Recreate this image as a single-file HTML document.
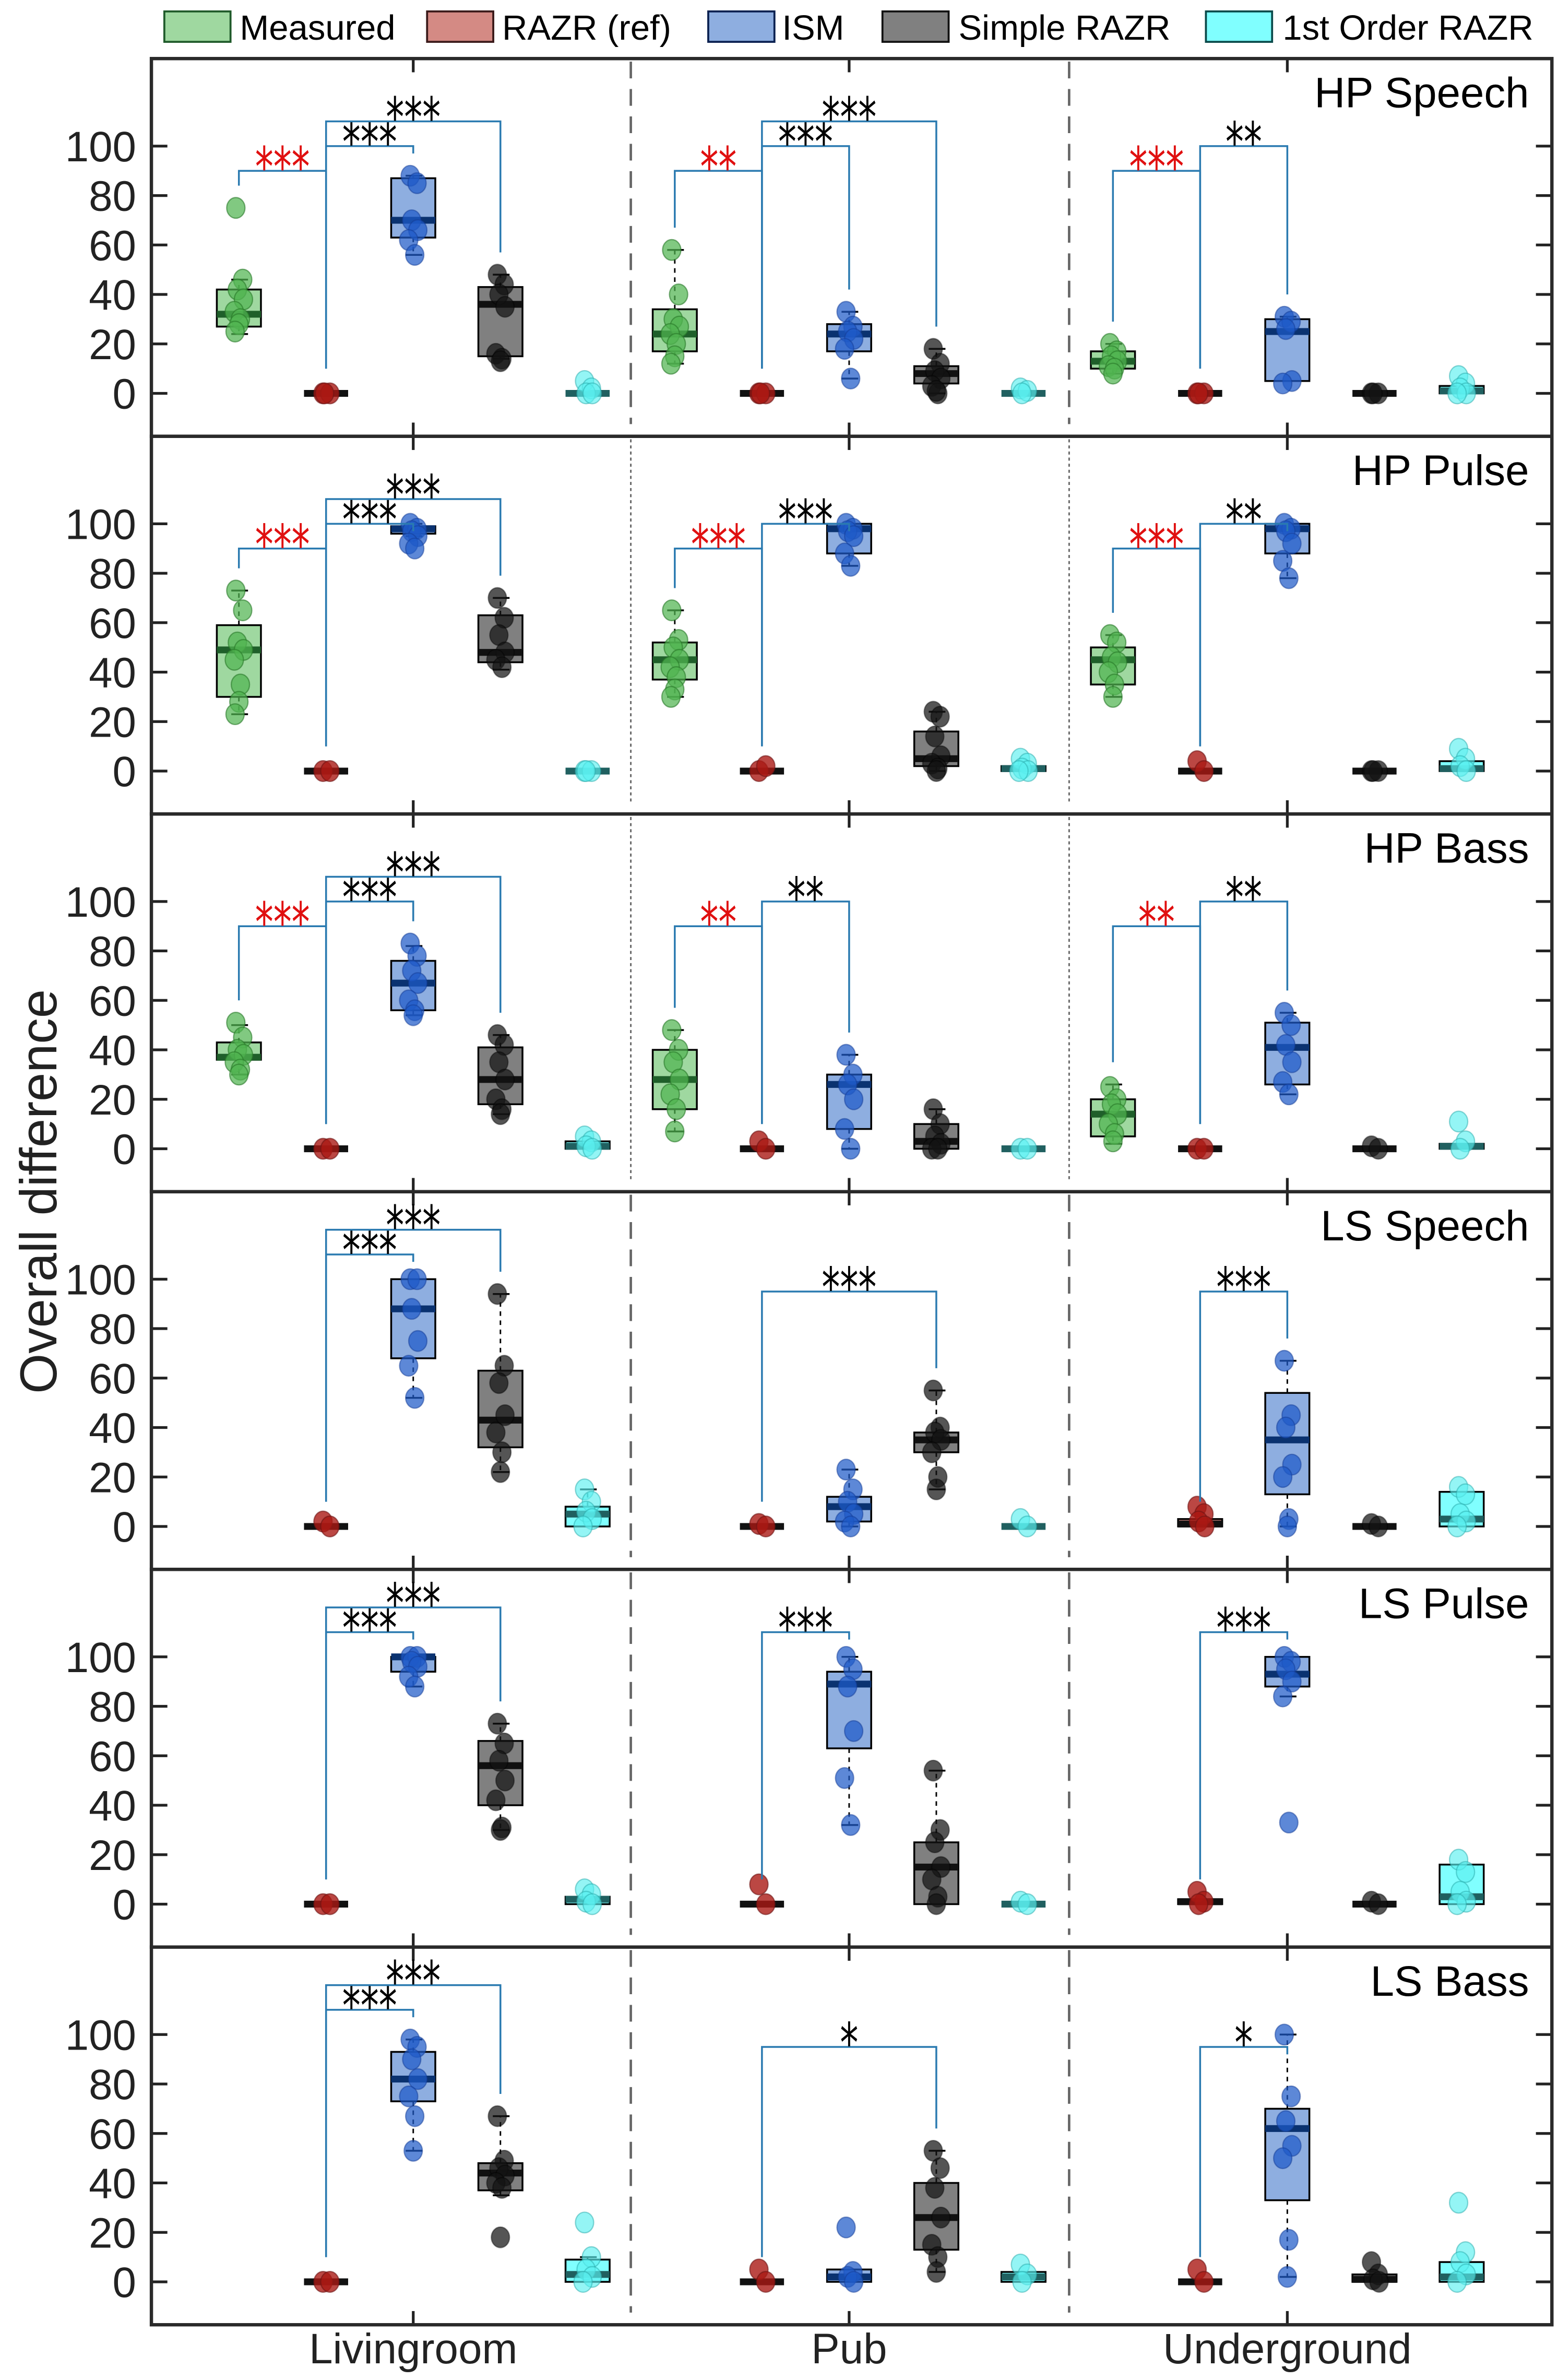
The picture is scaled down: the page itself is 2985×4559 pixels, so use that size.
<!DOCTYPE html>
<html><head><meta charset="utf-8"><style>
html,body{margin:0;padding:0;background:#fff;}
svg{display:block;font-family:"Liberation Sans",Arial,sans-serif;}
</style></head><body>
<svg id="chart" xmlns="http://www.w3.org/2000/svg" width="2985" height="4559" viewBox="0 0 1024 1564"></svg>
<script>
// ---- data ----
const rooms = ["Livingroom","Pub","Underground"];
const conditions = ["Measured","RAZR (ref)","ISM","Simple RAZR","1st Order RAZR"];
const panelTitles = ["HP Speech","HP Pulse","HP Bass","LS Speech","LS Pulse","LS Bass"];
const yTicks = [0,20,40,60,80,100];
// box stats per panel -> room -> condition : [q1, median, q3, whiskerLow, whiskerHigh]
const boxStats = [
 [[[27,32,42,24,46],[0,0,0,0,0],[63,70,87,56,88],[15,36,43,14,48],[0,0,0,0,0]],
  [[17,24,34,12,58],[0,0,0,0,0],[17,24,28,6,33],[4,8,11,0,18],[0,0,0,0,0]],
  [[10,13,17,8,20],[0,0,0,0,0],[5,25,30,5,31],[0,0,0,0,0],[0,1,3,0,3]]],
 [[[30,49,59,23,73],[0,0,0,0,0],[96,98,99,95,100],[44,48,63,41,70],[0,0,0,0,0]],
  [[37,45,52,30,65],[0,0,0,0,0],[88,98,100,83,100],[2,5,16,0,24],[0,1,2,0,2]],
  [[35,45,50,30,55],[0,0,0,0,0],[88,98,100,78,100],[0,0,0,0,0],[0,1,4,0,4]]],
 [[[36,37,43,30,50],[0,0,0,0,0],[56,67,76,54,82],[18,28,41,14,46],[0,1,3,0,3]],
  [[16,28,40,7,48],[0,0,0,0,0],[8,26,30,0,38],[0,3,10,0,16],[0,0,0,0,0]],
  [[5,14,20,2,26],[0,0,0,0,0],[26,41,51,22,55],[0,0,0,0,0],[0,1,2,0,2]]],
 [[null,[0,0,0,0,0],[68,88,100,52,100],[32,43,63,22,94],[0,5,8,0,15]],
  [null,[0,0,0,0,0],[2,8,12,0,23],[30,35,38,15,55],[0,0,0,0,0]],
  [null,[0,1,3,0,3],[13,35,54,0,67],[0,0,0,0,0],[0,3,14,0,14]]],
 [[null,[0,0,0,0,0],[94,100,100,88,100],[40,56,66,30,73],[0,2,3,0,3]],
  [null,[0,0,0,0,0],[63,89,94,32,100],[0,15,25,0,54],[0,0,0,0,0]],
  [null,[0,1,2,0,2],[88,93,100,84,100],[0,0,0,0,0],[0,3,16,0,16]]],
 [[null,[0,0,0,0,0],[73,82,93,53,98],[37,44,48,35,67],[0,3,9,0,10]],
  [null,[0,0,0,0,0],[0,2,5,0,5],[13,26,40,4,53],[0,2,4,0,4]],
  [null,[0,0,0,0,0],[33,62,70,2,100],[0,1,3,0,3],[0,2,8,0,8]]]
];
// raw points per panel -> room -> condition
const points = [
 [[[75,46,42,38,33,30,28,25],[0,0,0],[88,85,70,66,62,56],[48,44,40,35,16,14,13],[5,2,0,0]],
  [[58,40,30,27,24,20,15,12],[0,0,0],[33,27,25,22,18,6],[18,12,9,6,3,0,1],[2,1,0]],
  [[20,17,15,13,11,10,8],[0,0,0],[31,29,26,5,4],[0,0,0],[7,4,2,0,0]]],
 [[[73,65,52,49,45,35,28,23],[0,0],[100,98,97,95,92,90],[70,62,55,48,45,42],[0,0,0]],
  [[65,53,50,45,42,38,33,30],[0,2],[100,98,97,95,88,83],[24,22,14,6,3,1,0],[5,3,1,0,0]],
  [[55,52,46,44,40,35,30],[4,0],[100,98,97,92,85,78],[0,0,0],[9,5,2,0]]],
 [[[51,45,40,38,35,32,30],[0,0],[83,78,72,67,60,56,54],[46,42,35,28,20,16,14],[5,3,1,0]],
  [[48,40,35,28,22,16,7],[3,0],[38,30,26,20,8,0],[16,10,5,2,0,0],[0,0]],
  [[25,20,18,14,10,6,3],[0,0],[55,50,42,35,27,22],[1,0],[11,3,0]]],
 [[[],[2,0],[100,100,88,75,65,52],[94,65,58,45,38,30,22],[15,10,6,3,0]],
  [[],[1,0],[23,15,10,5,2,0],[55,40,38,35,30,20,15],[3,0]],
  [[],[8,5,2,0],[67,45,40,25,20,3,0],[1,0],[16,13,5,2,0]]],
 [[[],[0,0],[100,100,98,96,92,88],[73,65,58,50,42,31,30],[6,4,1,0]],
  [[],[8,0],[100,95,88,70,51,32],[54,30,25,15,10,3,0],[1,0]],
  [[],[5,1,0],[100,98,95,90,84,33],[1,0],[18,13,5,1,0]]],
 [[[],[0,0],[98,95,90,82,75,67,53],[67,49,46,43,40,38,18],[24,10,5,2,0]],
  [[],[5,0],[22,4,2,0],[53,46,38,26,15,10,4],[7,3,0]],
  [[],[5,0],[100,75,65,55,50,17,2],[8,3,1,0],[32,12,8,3,0]]]
];
// significance brackets
const bracketPanel = [0,0,0,0,0,0,0,0, 1,1,1,1,1,1,1, 2,2,2,2,2,2,2, 3,3,3,3, 4,4,4,4, 5,5,5,5];
const bracketRoom  = [0,0,0,1,1,1,2,2, 0,0,0,1,1,2,2, 0,0,0,1,1,2,2, 0,0,1,2, 0,0,1,2, 0,0,1,2];
const bracketFrom  = [0,1,1,0,1,1,0,1, 0,1,1,0,1,0,1, 0,1,1,0,1,0,1, 1,1,1,1, 1,1,1,1, 1,1,1,1];
const bracketTo    = [1,2,3,1,2,3,1,2, 1,2,3,1,2,1,2, 1,2,3,1,2,1,2, 2,3,3,2, 2,3,2,2, 2,3,3,2];
const bracketLevel = [90,100,110,90,100,110,90,100, 90,100,110,90,100,90,100, 90,100,110,90,100,90,100, 110,120,95,95, 110,120,110,110, 110,120,95,95];
const bracketStars = ["***","***","***","**","***","***","***","**",
 "***","***","***","***","***","***","**",
 "***","***","***","**","**","**","**",
 "***","***","***","***", "***","***","***","***", "***","***","*","*"];
const bracketRed   = [1,0,0,1,0,0,1,0, 1,0,0,1,0,1,0, 1,0,0,1,0,1,0, 0,0,0,0, 0,0,0,0, 0,0,0,0];

// ---- styling / layout ----
const NS="http://www.w3.org/2000/svg";
const svg=document.getElementById('chart');
const L=99.5,R=1020,T0=38.5,PH=248.2;
const roomX=[157,443.5,731.5], GAP=57.3, HW=14.5;
const fills=["#9fd8a0","#d48a84","#8eaee0","#808080","#80ffff"];
const legStroke=["#1f5a2a","#3a1a1a","#0a2050","#111","#0a4a4a"];
const medCol=["#1f5f2a","#111","#0a3270","#111","#206060"];
const ptFill=["rgba(80,180,80,0.72)","rgba(170,25,20,0.8)","rgba(30,90,200,0.72)","rgba(20,20,20,0.72)","rgba(90,240,240,0.65)"];
const ptStroke=["rgba(40,120,40,0.6)","rgba(110,20,20,0.6)","rgba(20,60,150,0.5)","rgba(0,0,0,0.4)","rgba(40,170,170,0.5)"];
const jit=[-2,2.5,-1,3,-3,1,0,-2.5];
function el(tag,attrs,parent){const e=document.createElementNS(NS,tag);for(const k in attrs)e.setAttribute(k,attrs[k]);(parent||svg).appendChild(e);return e;}
function yS(p,v){return T0+p*PH+220-v*1.625;}
function xS(r,c){return roomX[r]+c*GAP;}

// legend
const legX=[108,280.7,465.5,580,792.6], legTX=[157.6,330,514,630,843];
conditions.forEach((c,i)=>{
  const g=el('g',{});
  
  
  el('rect',{x:legX[i],y:7.5,width:43.5,height:20,fill:fills[i],stroke:legStroke[i],'stroke-width':1.3},g);
  const t=el('text',{x:legTX[i],y:26,'font-size':23,fill:'#000'},g);t.textContent=c;
});

for(let p=0;p<6;p++){
  const top=T0+p*PH, bot=top+PH;
  const pg=el('g',{});
  
  
  [414.6,702.7].forEach(x=>{
    const ln=el('line',{x1:x,y1:top+2,x2:x,y2:bot-8,stroke:'#666','stroke-width':(p==1||p==2)?1:1.6,'stroke-dasharray':(p==1||p==2)?'2 2':'11 7'},pg);
    
    
  });
  yTicks.forEach(v=>{
    const y=yS(p,v);
    el('line',{x1:L,y1:y,x2:L+10.5,y2:y,stroke:'#222','stroke-width':1.8},pg);
    el('line',{x1:R-10.5,y1:y,x2:R,y2:y,stroke:'#222','stroke-width':1.8},pg);
    const t=el('text',{x:L-10,y:y+10,'font-size':28,'text-anchor':'end',fill:'#222'},pg);
    t.textContent=v;
    
    
  });
  roomX.forEach((rx,r)=>{
    const x=xS(r,2);
    el('line',{x1:x,y1:top,x2:x,y2:top+9,stroke:'#222','stroke-width':1.8},pg);
    el('line',{x1:x,y1:bot-9,x2:x,y2:bot,stroke:'#222','stroke-width':1.8},pg);
  });
  for(let r=0;r<3;r++)for(let c=0;c<5;c++){
    const s=boxStats[p][r][c]; if(!s) continue;
    const x=xS(r,c);
    const g=el('g',{},pg);
    
    
    const [q1,md,q3,wl,wh]=s;
    if(wh>q3){el('line',{x1:x,y1:yS(p,q3),x2:x,y2:yS(p,wh),stroke:'#000','stroke-width':1,'stroke-dasharray':'3 3'},g);
      el('line',{x1:x-5,y1:yS(p,wh),x2:x+6,y2:yS(p,wh),stroke:'#000','stroke-width':1.2},g);}
    if(wl<q1){el('line',{x1:x,y1:yS(p,q1),x2:x,y2:yS(p,wl),stroke:'#000','stroke-width':1,'stroke-dasharray':'3 3'},g);
      el('line',{x1:x-5,y1:yS(p,wl),x2:x+6,y2:yS(p,wl),stroke:'#000','stroke-width':1.2},g);}
    if(q3>q1) el('rect',{x:x-HW,y:yS(p,q3),width:2*HW,height:yS(p,q1)-yS(p,q3),fill:fills[c],stroke:'#000','stroke-width':1.2},g);
    el('line',{x1:x-HW,y1:yS(p,md),x2:x+HW,y2:yS(p,md),stroke:medCol[c],'stroke-width':4.5},g);
    points[p][r][c].forEach((v,k)=>{
      const pt=el('ellipse',{cx:x+jit[k%8],cy:yS(p,v),rx:6,ry:6.8,fill:ptFill[c],stroke:ptStroke[c],'stroke-width':0.8},g);
      
      
    });
  }
  const tt=el('text',{x:1005,y:top+32,'font-size':28,'text-anchor':'end',fill:'#000'},pg);
  tt.textContent=panelTitles[p];
  
  
  el('rect',{x:L,y:top,width:R-L,height:PH,fill:'none',stroke:'#2a2a2a','stroke-width':2.2},pg);
}

function maxOf(p,r,c){const a=points[p][r][c];const b=boxStats[p][r][c];let m=a.length?Math.max(...a):0;if(b)m=Math.max(m,b[4]);return m;}
for(let i=0;i<bracketPanel.length;i++){
  const p=bracketPanel[i],r=bracketRoom[i],a=bracketFrom[i],b=bracketTo[i],lv=bracketLevel[i];
  const x1=xS(r,a),x2=xS(r,b);
  const e1=a==1?10:Math.min(maxOf(p,r,a)+9,lv-3);
  const e2=b==1?10:Math.min(maxOf(p,r,b)+9,lv-3);
  const g=el('g',{});
  
  
  el('polyline',{points:`${x1},${yS(p,e1)} ${x1},${yS(p,lv)} ${x2},${yS(p,lv)} ${x2},${yS(p,e2)}`,fill:'none',stroke:'#2a7ab0','stroke-width':1.2},g);
  const n=bracketStars[i].length;
  const t=el('text',{x:(x1+x2)/2,y:yS(p,lv)+10,'font-size':36,'text-anchor':'middle',textLength:12*n,lengthAdjust:'spacingAndGlyphs',fill:bracketRed[i]?'#e01010':'#000','font-family':'"DejaVu Sans",sans-serif'},g);
  t.textContent=bracketStars[i];
}

rooms.forEach((rn,r)=>{
  const t=el('text',{x:xS(r,2),y:1553,'font-size':28,'text-anchor':'middle',fill:'#222'});
  t.textContent=rn;
  
  
});
const yl=el('text',{x:0,y:0,'font-size':34,'text-anchor':'middle',fill:'#222',transform:'translate(37,783) rotate(-90)'});
yl.textContent='Overall difference';


</script>
</body></html>
